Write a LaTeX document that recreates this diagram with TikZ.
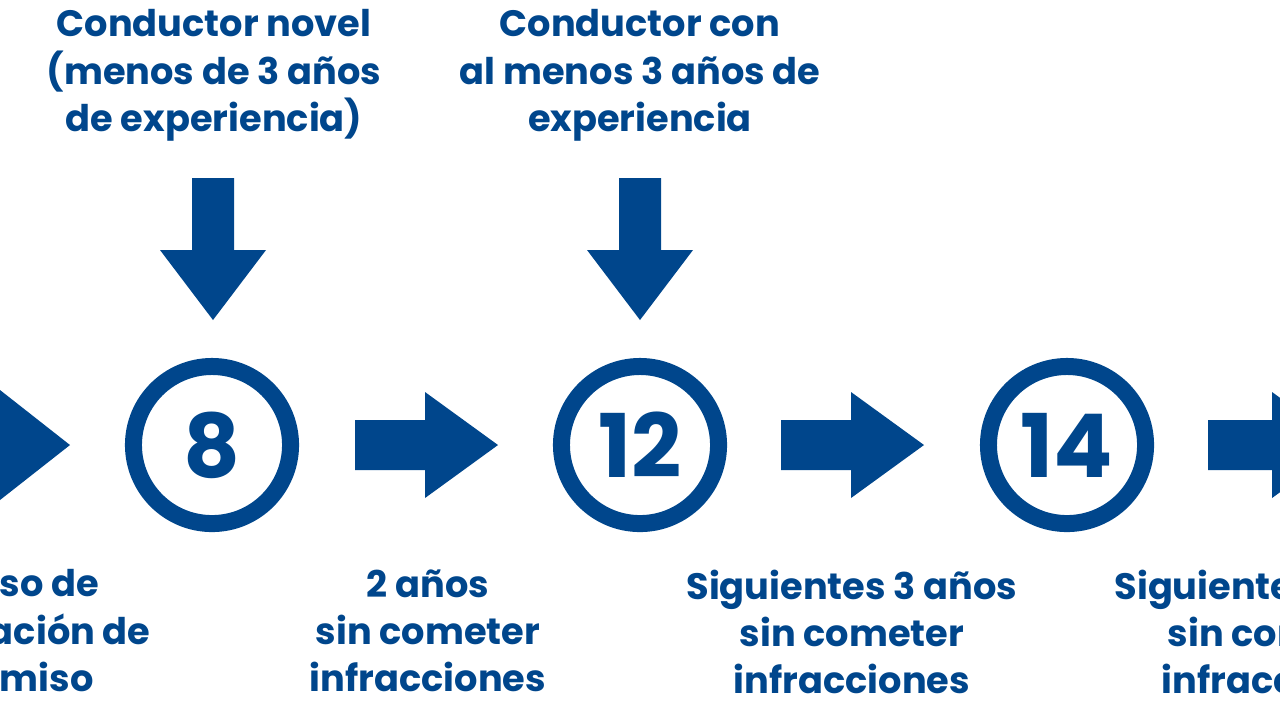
\documentclass[tikz,border=0pt]{standalone}
\usepackage{fontspec}
\setmainfont{Poppins}
\definecolor{db}{HTML}{00468C}
\begin{document}
\begin{tikzpicture}[x=0.01cm,y=-0.01cm,
  lbl/.style={text=db,font=\fontsize{10.45}{13.4}\selectfont\bfseries,align=center,inner sep=0},
  num/.style={text=db,font=\fontsize{25}{25}\selectfont\bfseries,inner sep=0},
  ring/.style={draw=db,line width=0.17cm,circle,minimum size=1.57cm,inner sep=0},
  blk/.style={fill=db}]
\useasboundingbox (0,0) rectangle (1280,720);
\clip (0,0) rectangle (1280,720);
% left partial arrow
\fill[db] (-80,420) -- (0,420) -- (0,390) -- (70,445) -- (0,500) -- (0,470) -- (-80,470) -- cycle;
% circles
\node[ring] (c8) at (212,445) {};
\node[num] at (c8) {8};
\node[ring] (c12) at (640,445) {};
\node[num] at (c12) {12};
\node[ring] (c14) at (1067,445) {};
\node[num] at (c14) {14};
% right arrows
\foreach \x in {355,781}{
  \fill[db] (\x,420) -- (\x+70,420) -- (\x+70,392) -- (\x+143,445) -- (\x+70,498) -- (\x+70,470) -- (\x,470) -- cycle;}
\fill[db] (1208,420) -- (1272,420) -- (1272,392) -- (1345,445) -- (1272,498) -- (1272,470) -- (1208,470) -- cycle;
% down arrows
\foreach \x in {213,640}{
  \fill[db] (\x-21,178) -- (\x+21,178) -- (\x+21,250) -- (\x+53,250) -- (\x,320) -- (\x-53,250) -- (\x-21,250) -- cycle;}
% top labels
\node[lbl,anchor=north] (t1) at (214,9) {Conductor novel\\(menos de 3 años\\de experiencia)};
\node[lbl,anchor=north] (t2) at (640,9) {Conductor con\\al menos 3 años de\\experiencia};
% bottom labels
\node[lbl,anchor=north] (b0) at (15,569) {Curso de\\renovación de\\permiso};
\node[lbl,anchor=north] (b1) at (428,569) {2 años\\sin cometer\\infracciones};
\node[lbl,anchor=north] (b2) at (852,569) {Siguientes 3 años\\sin cometer\\infracciones};
\node[lbl,anchor=north] (b3) at (1280,569) {Siguientes 3 años\\sin cometer\\infracciones};
\end{tikzpicture}
\end{document}
